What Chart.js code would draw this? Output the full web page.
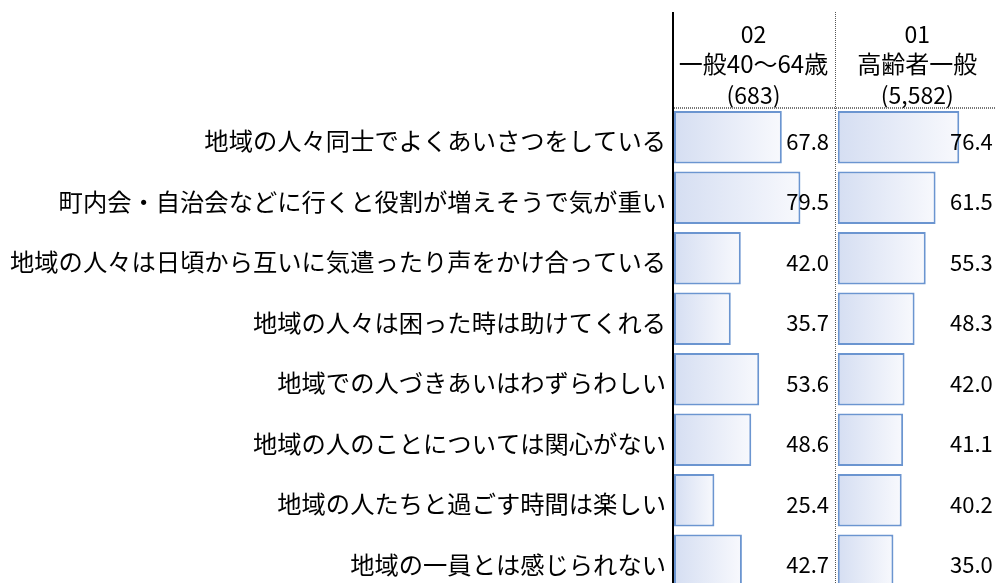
<!DOCTYPE html>
<html>
<head>
<meta charset="utf-8">
<script src="https://cdn.jsdelivr.net/npm/chart.js@4"></script>
<style>
html,body{margin:0;padding:0;background:#fff;overflow:hidden;}
#wrap{width:996px;height:600px;}
</style>
</head>
<body>
<div id="wrap"><canvas id="c" width="996" height="600"></canvas></div>
<script>
const categories = [
  "地域の人々同士でよくあいさつをしている",
  "町内会・自治会などに行くと役割が増えそうで気が重い",
  "地域の人々は日頃から互いに気遣ったり声をかけ合っている",
  "地域の人々は困った時は助けてくれる",
  "地域での人づきあいはわずらわしい",
  "地域の人のことについては関心がない",
  "地域の人たちと過ごす時間は楽しい",
  "地域の一員とは感じられない"
];
const seriesCodes = ["02", "01"];
const seriesNames = ["一般40～64歳", "高齢者一般"];
const seriesN = ["(683)", "(5,582)"];
const values40to64 = [67.8, 79.5, 42.0, 35.7, 53.6, 48.6, 25.4, 42.7];
const valuesElderly = [76.4, 61.5, 55.3, 48.3, 42.0, 41.1, 40.2, 35.0];

const PANEL_OFFSET = 103;   // start of second panel in axis units
const AXIS_MAX = 202.5;
const FONT = "'Noto Sans CJK JP', 'Noto Sans', sans-serif";

function barGradient(ctx) {
  const chart = ctx.chart;
  const xs = chart.scales.x;
  if (!xs || ctx.type !== 'data') return '#e2e8f6';
  const raw = ctx.raw;
  const v = Array.isArray(raw) ? raw : [0, raw];
  const x0 = xs.getPixelForValue(v[0]);
  const x1 = xs.getPixelForValue(v[1]);
  if (!isFinite(x0) || !isFinite(x1)) return '#e2e8f6';
  const g = chart.ctx.createLinearGradient(x0, 0, x1, 0);
  g.addColorStop(0, '#d5def2');
  g.addColorStop(1, '#f8f9fd');
  return g;
}

const framePlugin = {
  id: 'frame',
  afterDatasetsDraw(chart) {
    const c = chart.ctx;
    const xs = chart.scales.x, ys = chart.scales.y;
    const area = chart.chartArea;
    c.save();
    // value labels
    c.fillStyle = '#000';
    c.font = '22px ' + FONT;
    c.textAlign = 'right';
    c.textBaseline = 'middle';
    const vx1 = xs.getPixelForValue(97.5);
    const vx2 = xs.getPixelForValue(PANEL_OFFSET + 97.5);
    categories.forEach((_, i) => {
      const y = ys.getPixelForValue(i) + 4;
      c.fillText(values40to64[i].toFixed(1), vx1, y);
      c.fillText(valuesElderly[i].toFixed(1), vx2, y);
    });
    // headers
    c.textAlign = 'center';
    const hx = [xs.getPixelForValue(50), xs.getPixelForValue(PANEL_OFFSET + 50)];
    for (let k = 0; k < 2; k++) {
      c.font = '23px ' + FONT;
      c.fillText(seriesCodes[k], hx[k], 34);
      c.font = '24px ' + FONT;
      c.fillText(seriesNames[k], hx[k], 64);
      c.font = '23px ' + FONT;
      c.fillText(seriesN[k], hx[k], 95);
    }
    // left solid axis line
    c.fillStyle = '#000';
    c.fillRect(area.left - 2, 12, 2, chart.height);
    // dotted separators
    c.strokeStyle = '#555';
    c.setLineDash([1, 1]);
    c.lineWidth = 1;
    const sepX = Math.round(xs.getPixelForValue(PANEL_OFFSET)) - 2.5;
    c.beginPath();
    c.moveTo(sepX, 12);
    c.lineTo(sepX, chart.height);
    c.stroke();
    c.strokeStyle = '#777';
    c.lineWidth = 2;
    c.beginPath();
    c.moveTo(area.left, area.top + 1);
    c.lineTo(area.right, area.top + 1);
    c.stroke();
    c.restore();
  }
};

new Chart(document.getElementById('c'), {
  type: 'bar',
  data: {
    labels: categories,
    datasets: [
      {
        label: seriesNames[0],
        data: values40to64,
        backgroundColor: ctx => barGradient(ctx),
        borderColor: '#6b95d0',
        borderWidth: 2,
        borderSkipped: false,
        grouped: false,
        barPercentage: 0.87,
        categoryPercentage: 1
      },
      {
        label: seriesNames[1],
        data: valuesElderly.map(v => [PANEL_OFFSET, PANEL_OFFSET + v]),
        backgroundColor: ctx => barGradient(ctx),
        borderColor: '#6b95d0',
        borderWidth: 2,
        borderSkipped: false,
        grouped: false,
        barPercentage: 0.87,
        categoryPercentage: 1
      }
    ]
  },
  options: {
    indexAxis: 'y',
    responsive: false,
    animation: false,
    layout: { padding: { top: 107, bottom: 9, left: 0, right: 0 } },
    plugins: { legend: { display: false }, tooltip: { enabled: false } },
    scales: {
      x: {
        display: false,
        min: 0,
        max: AXIS_MAX
      },
      y: {
        afterFit(scale) {
          scale.width = 674;
          scale.paddingTop = 0;
          scale.paddingBottom = 0;
        },
        grid: { display: false, drawTicks: false },
        border: { display: false },
        ticks: {
          padding: 8,
          labelOffset: 4,
          color: '#000',
          font: { size: 24.3, family: FONT }
        }
      }
    }
  },
  plugins: [framePlugin]
});
</script>
</body>
</html>
